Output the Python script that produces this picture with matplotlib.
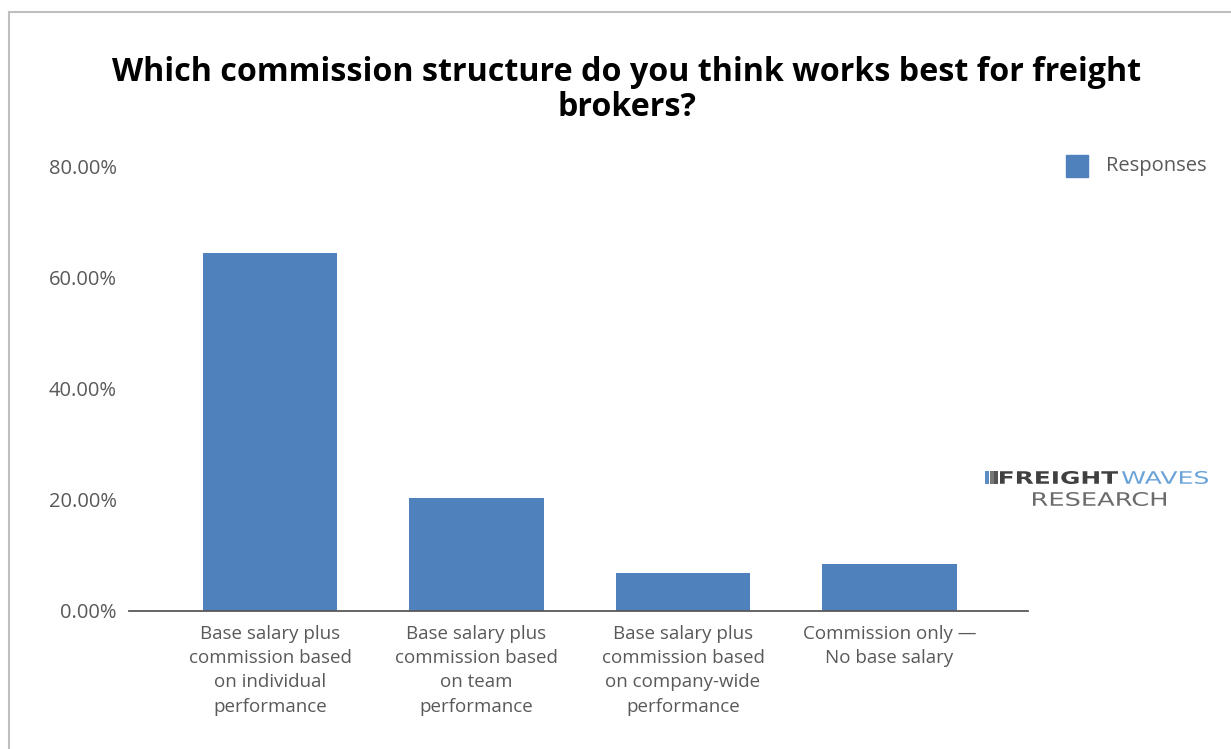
import matplotlib.pyplot as plt
from matplotlib.font_manager import FontProperties
from matplotlib.lines import Line2D
from matplotlib.patches import PathPatch, Rectangle
from matplotlib.textpath import TextPath
from matplotlib.transforms import Affine2D, IdentityTransform

categories = [
    "Base salary plus\ncommission based\non individual\nperformance",
    "Base salary plus\ncommission based\non team\nperformance",
    "Base salary plus\ncommission based\non company-wide\nperformance",
    "Commission only \u2014\nNo base salary",
]
responses = [64.41, 20.34, 6.78, 8.47]
y_ticks = [0, 20, 40, 60, 80]

BLUE = "#4f81bd"
GRAY = "#595959"

plt.rcParams["font.family"] = ["Open Sans", "DejaVu Sans"]

W, H = 1231, 749
fig = plt.figure(figsize=(W / 100, H / 100), dpi=100)


def boxed_text(s, x0, x1, top, bottom, color, weight="normal"):
    """Stretch a text path so its ink fills the pixel box (y measured from top)."""
    tp = TextPath((0, 0), s, size=20,
                  prop=FontProperties(family="DejaVu Sans", weight=weight))
    ext = tp.get_extents()
    sx = (x1 - x0) / ext.width
    sy = (bottom - top) / ext.height
    tr = (Affine2D().translate(-ext.x0, -ext.y0).scale(sx, sy)
          .translate(x0, H - bottom))
    fig.add_artist(PathPatch(tr.transform_path(tp), color=color, lw=0,
                             transform=IdentityTransform()))


# frame around the chart area
fig.add_artist(Line2D([9 / W, 1], [1 - 12 / H, 1 - 12 / H], color="#bfbfbf", lw=1.5))
fig.add_artist(Line2D([9 / W, 9 / W], [0, 1 - 12 / H], color="#bfbfbf", lw=1.5))

ax = fig.add_axes([129 / W, (H - 611) / H, 899 / W, 445 / H])
x = list(range(len(categories)))
ax.bar(x, responses, width=0.65, color=BLUE, label="Responses", zorder=2)

ax.set_xlim(-0.683, 3.671)
ax.set_ylim(0, 80)
ax.set_yticks(y_ticks)
ax.set_yticklabels([f"{v:.2f}%" for v in y_ticks])
ax.set_xticks(x)
ax.set_xticklabels(categories, linespacing=1.45)
ax.tick_params(axis="both", length=0, labelcolor=GRAY)
ax.tick_params(axis="y", pad=9, labelsize=14.5)
ax.tick_params(axis="x", pad=10, labelsize=13.5)
for s in ["top", "right", "left"]:
    ax.spines[s].set_visible(False)
ax.spines["bottom"].set_color("#595959")
ax.spines["bottom"].set_linewidth(1.3)

fig.text(627 / W, 1 - 90 / H,
         "Which commission structure do you think works best for freight\nbrokers?",
         ha="center", va="center", fontsize=23.2, fontweight="bold",
         color="#000000", linespacing=1.05)

# legend
fig.add_artist(Rectangle((1066 / W, 1 - 177 / H), 22 / W, 22 / H,
                         transform=fig.transFigure, color=BLUE))
fig.text(1106 / W, 1 - 166 / H, "Responses", ha="left", va="center",
         fontsize=14.5, color=GRAY)

# FreightWaves Research logo
for i, c in enumerate(["#5b8cc4", "#777777", "#555555"]):
    fig.add_artist(Rectangle(((985 + i * 4.5) / W, 1 - 484 / H), 4 / W, 13 / H,
                             transform=fig.transFigure, color=c, lw=0))
boxed_text("FREIGHT", 1000, 1118, 471, 484, "#404040", weight="heavy")
boxed_text("WAVES", 1122, 1208, 471, 484, "#6aa3d8")
boxed_text("RESEARCH", 1033, 1166, 492, 506, "#6b6b6b")

fig.savefig("out.png", dpi=100)
